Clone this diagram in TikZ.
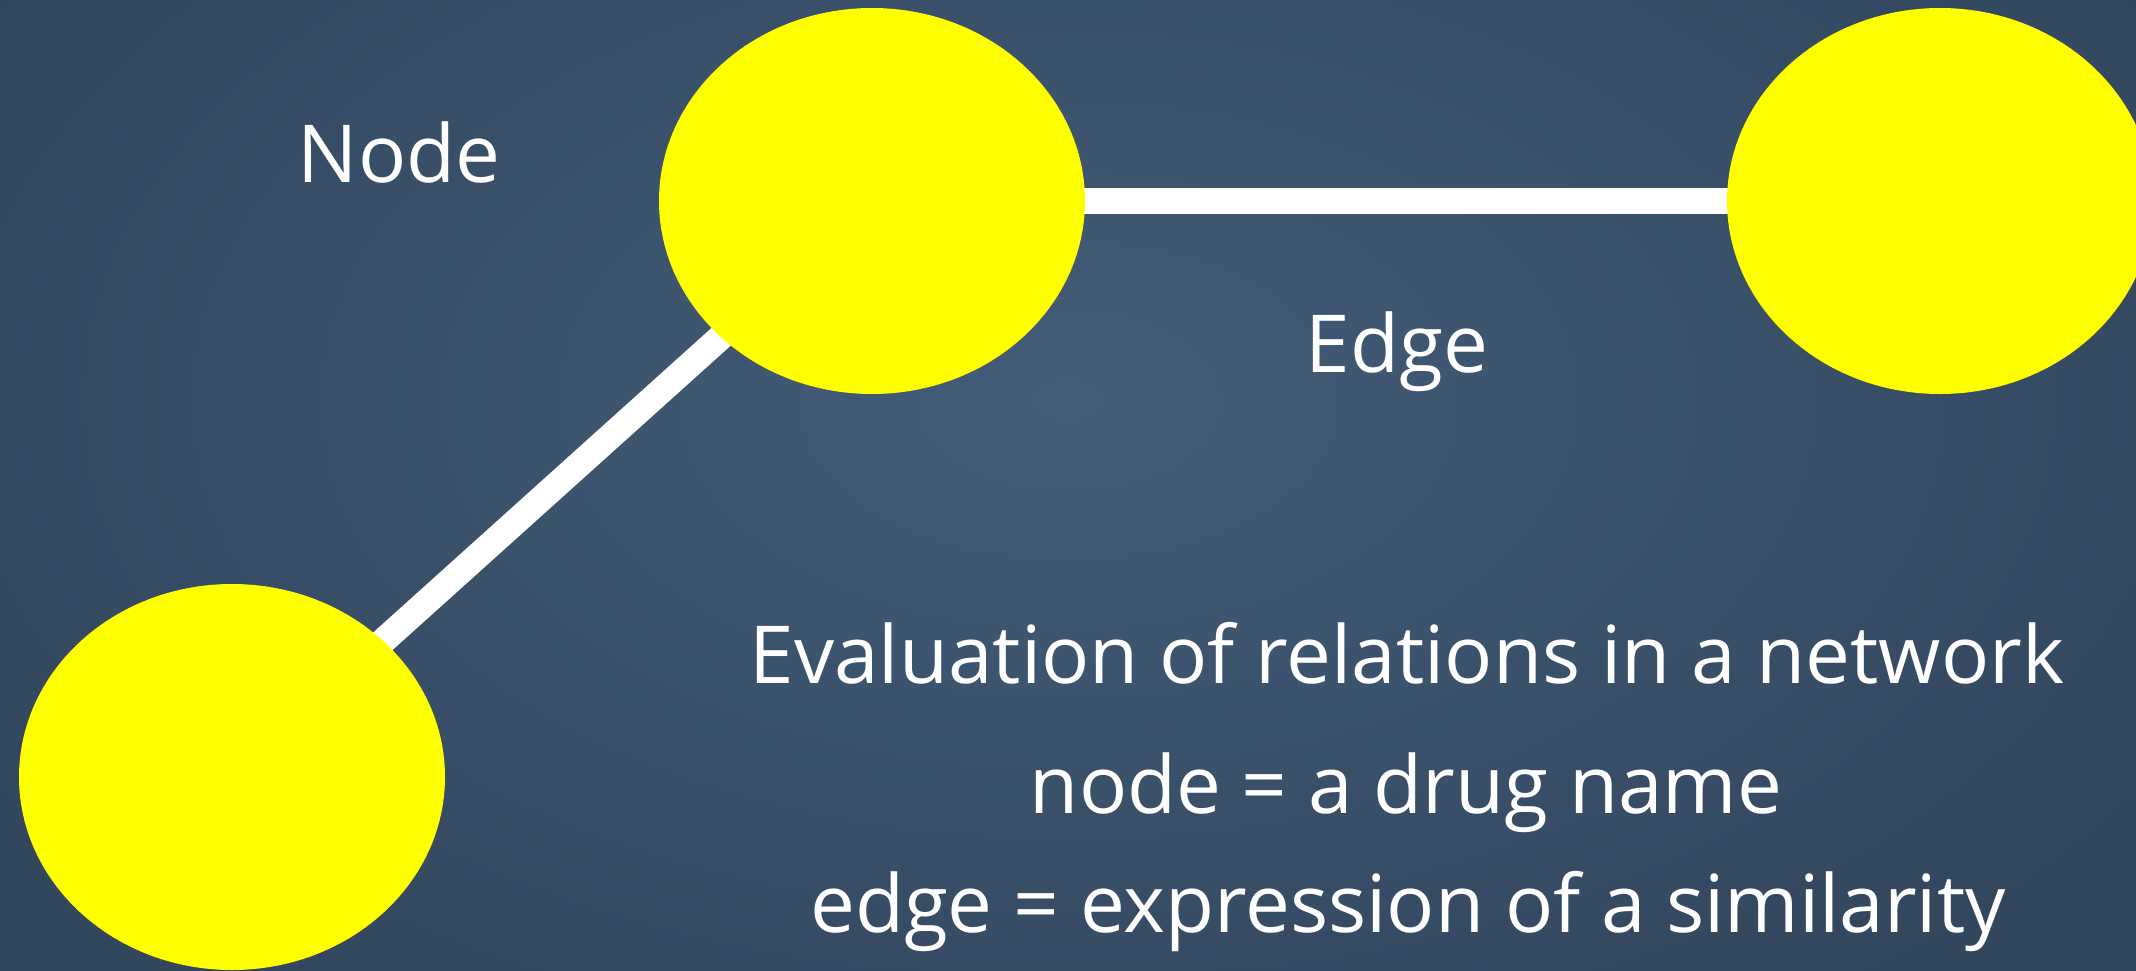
\documentclass[tikz,border=0pt]{standalone}
\usepackage{fontspec}
\setmainfont{Open Sans}
\usetikzlibrary{shapes.geometric}
\pgfdeclarelayer{bg}
\pgfdeclarelayer{edges}
\pgfsetlayers{bg,edges,main}
\definecolor{bginner}{HTML}{435C78}
\definecolor{bgouter}{HTML}{31455B}
\definecolor{nodeyellow}{HTML}{FFFF00}
\tikzset{
  dot/.style={ellipse, fill=nodeyellow, draw=none, inner sep=0pt,
    minimum width=213pt, minimum height=193pt},
  link/.style={draw=white, line width=13pt},
  lbl/.style={text=white, font=\fontsize{40pt}{48pt}\selectfont, anchor=base, inner sep=0pt}
}
\begin{document}
\begin{tikzpicture}[x=0.5pt, y=-0.5pt]
\useasboundingbox (0,0) rectangle (2136,970);
\clip (0,0) rectangle (2136,970);
\begin{pgfonlayer}{bg}
\shade[inner color=bginner, outer color=bgouter] (-300,-400) rectangle (2436,1200);
\end{pgfonlayer}
\node[dot] (n1) at (872,201) {};
\node[dot] (n2) at (1940,201) {};
\node[dot] (n3) at (232,777) {};
\begin{pgfonlayer}{edges}
\draw[link] (n1.center) -- (n2.center);
\draw[link] (n1.center) -- (n3.center);
\end{pgfonlayer}
\node[lbl] (tnode) at (399,182) {Node};
\node[lbl] (tedge) at (1397,372) {Edge};
\node[lbl] (l1) at (1407,683) {Evaluation of relations in a network};
\node[lbl] (l2) at (1406,813) {node = a drug name};
\node[lbl] (l3) at (1408,932) {edge = expression of a similarity};
\end{tikzpicture}
\end{document}
